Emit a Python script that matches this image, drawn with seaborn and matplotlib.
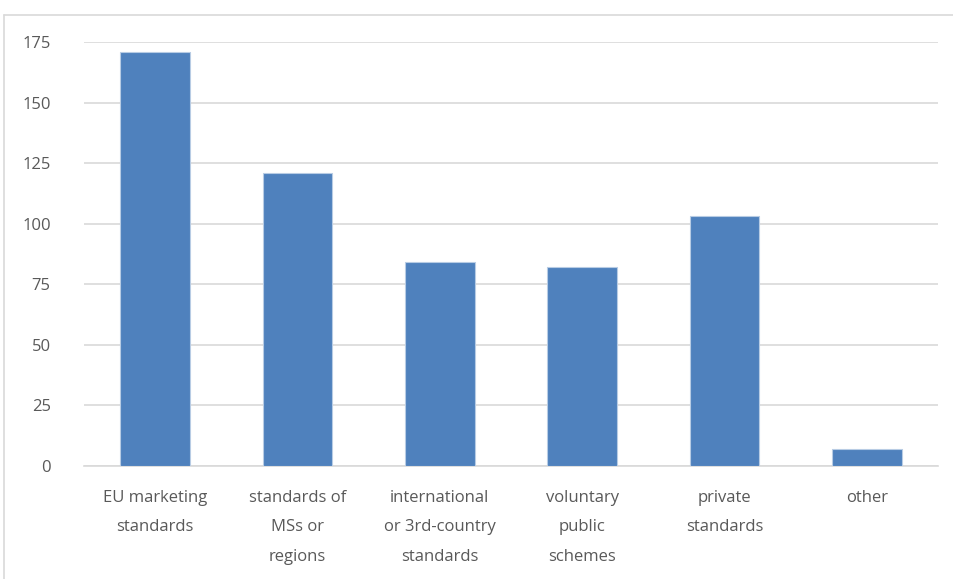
import matplotlib.pyplot as plt
from matplotlib.lines import Line2D
import seaborn as sns
import pandas as pd

# Chart data
categories = ["EU marketing\nstandards", "standards of\nMSs or\nregions",
              "international\nor 3rd-country\nstandards", "voluntary\npublic\nschemes",
              "private\nstandards", "other"]
counts = [171, 121, 84, 82, 103, 7]
y_ticks = [0, 25, 50, 75, 100, 125, 150, 175]

df = pd.DataFrame({"category": categories, "count": counts})

sns.set_theme(style="white")
plt.rcParams["font.family"] = ["Open Sans", "DejaVu Sans"]

fig = plt.figure(figsize=(9.54, 5.79), dpi=100)
ax = fig.add_axes([84 / 954, 1 - 466 / 579, (938 - 84) / 954, (466 - 42) / 579])

sns.barplot(data=df, x="category", y="count", color="#4F81BD", saturation=1,
            width=0.49, edgecolor="#b8cce4", linewidth=0.8, ax=ax, zorder=3)

ax.set_ylim(0, 175)
ax.set_yticks(y_ticks)
ax.set_xlim(-0.5, len(categories) - 0.5)
ax.yaxis.grid(True, color="#d9d9d9", linewidth=1.2, zorder=0)
ax.set_axisbelow(True)
for side in ["top", "right", "left"]:
    ax.spines[side].set_visible(False)
ax.spines["bottom"].set_color("#d9d9d9")
ax.spines["bottom"].set_linewidth(1.2)
ax.set_xlabel("")
ax.set_ylabel("")
ax.tick_params(axis="y", length=0, pad=24, labelsize=12, labelcolor="#595959")
ax.tick_params(axis="x", length=0, pad=17, labelsize=12, labelcolor="#595959")
for lbl in ax.get_xticklabels():
    lbl.set_linespacing(2.15)

# outer chart frame (left and top edges only, rest is cropped)
fx = 4.5 / 954
fy = 1 - 14.5 / 579
fig.lines.append(Line2D([fx, fx], [0, fy], transform=fig.transFigure,
                        color="#d9d9d9", linewidth=1.2))
fig.lines.append(Line2D([fx, 1.01], [fy, fy], transform=fig.transFigure,
                        color="#d9d9d9", linewidth=1.2))

fig.savefig("out.png", dpi=100)
